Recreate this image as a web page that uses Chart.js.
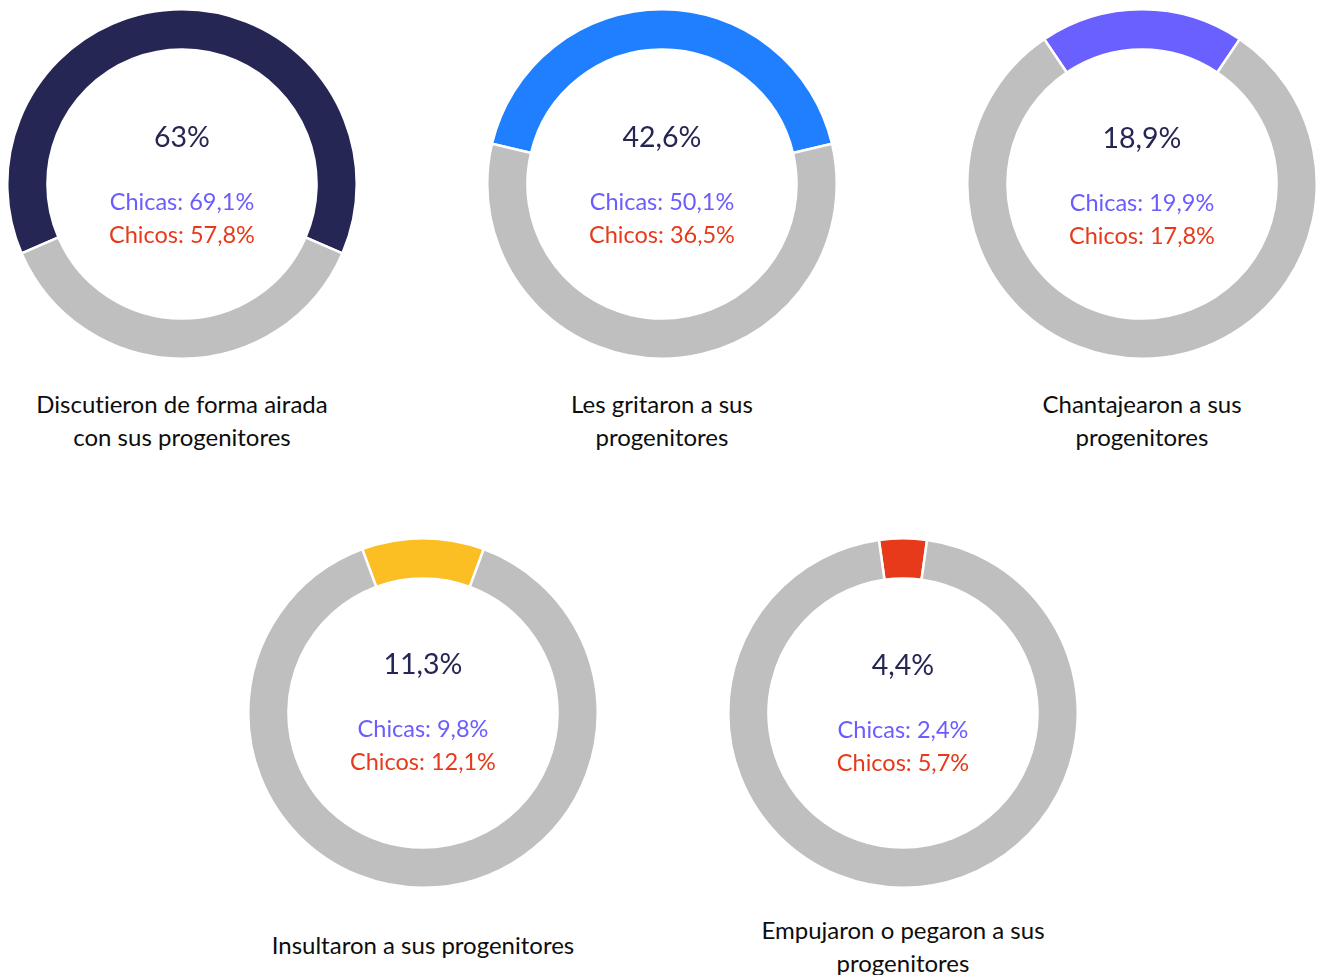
<!DOCTYPE html>
<html>
<head>
<meta charset="utf-8">
<script src="https://cdn.jsdelivr.net/npm/chart.js@4/dist/chart.umd.min.js"></script>
<style>
  html, body { margin: 0; padding: 0; background: #fff; }
  body { width: 1322px; height: 975px; position: relative; overflow: hidden; font-family: Lato, "Open Sans", sans-serif; font-variant-ligatures: none; }
  .box { position: absolute; width: 352px; height: 352px; }
  .lbl { position: absolute; width: 440px; text-align: center; font-size: 24px; line-height: 33px; color: #0d0d0d; font-variant-ligatures: none; }
</style>
</head>
<body>
<script>
const categories = [
  ["Discutieron de forma airada", "con sus progenitores"],
  ["Les gritaron a sus", "progenitores"],
  ["Chantajearon a sus", "progenitores"],
  ["Insultaron a sus progenitores"],
  ["Empujaron o pegaron a sus", "progenitores"]
];
const totals = [63, 42.6, 18.9, 11.3, 4.4];
const chicas = [69.1, 50.1, 19.9, 9.8, 2.4];
const chicos = [57.8, 36.5, 17.8, 12.1, 5.7];
const segColors = ["#262654", "#1F7FFF", "#6A5FFF", "#FBBF24", "#E63A1A"];
const restColor = "#BFBFBF";

// layout (centers of each ring, label offsets)
const centers = [[182, 184], [662, 184], [1142, 184], [423, 713], [903, 713]];
const textOffsets = [[-46, 18, 51], [-46, 18, 51], [-45, 19, 52], [-48, 16, 49], [-47, 17, 50]];
const labelTops = [387, 387, 387, 928, 913];

const fmt = v => String(v).replace('.', ',') + '%';

categories.forEach((cat, i) => {
  const box = document.createElement('div');
  box.className = 'box';
  box.style.left = (centers[i][0] - 176) + 'px';
  box.style.top = (centers[i][1] - 176) + 'px';
  const cv = document.createElement('canvas');
  cv.width = 352; cv.height = 352;
  cv.style.width = '352px'; cv.style.height = '352px';
  box.appendChild(cv);
  document.body.appendChild(box);

  const lbl = document.createElement('div');
  lbl.className = 'lbl';
  lbl.style.left = (centers[i][0] - 220) + 'px';
  lbl.style.top = labelTops[i] + 'px';
  lbl.innerHTML = cat.join('<br>');
  document.body.appendChild(lbl);

  const off = textOffsets[i];
  const centerText = {
    id: 'centerText' + i,
    afterDraw(chart) {
      const ctx = chart.ctx;
      const a = chart.getDatasetMeta(0).data[0];
      const cx = a.x, cy = a.y;
      ctx.save();
      ctx.textAlign = 'center';
      ctx.textBaseline = 'middle';
      ctx.font = '28.5px Lato';
      ctx.fillStyle = '#262654';
      ctx.fillText(fmt(totals[i]), cx, cy + off[0]);
      ctx.font = '23.5px Lato';
      ctx.fillStyle = '#6A5CFF';
      ctx.fillText('Chicas: ' + fmt(chicas[i]), cx, cy + off[1]);
      ctx.fillStyle = '#E63A1A';
      ctx.fillText('Chicos: ' + fmt(chicos[i]), cx, cy + off[2]);
      ctx.restore();
    }
  };

  new Chart(cv, {
    type: 'doughnut',
    data: {
      labels: ['Sí', 'No'],
      datasets: [{
        data: [totals[i], 100 - totals[i]],
        backgroundColor: [segColors[i], restColor],
        borderColor: '#ffffff',
        borderWidth: 2.5,
        hoverOffset: 0
      }]
    },
    options: {
      responsive: false,
      animation: false,
      cutout: '77%',
      rotation: -totals[i] * 1.8,
      layout: { padding: 0 },
      plugins: { legend: { display: false }, tooltip: { enabled: false } },
      events: []
    },
    plugins: [centerText]
  });
});
</script>
</body>
</html>
